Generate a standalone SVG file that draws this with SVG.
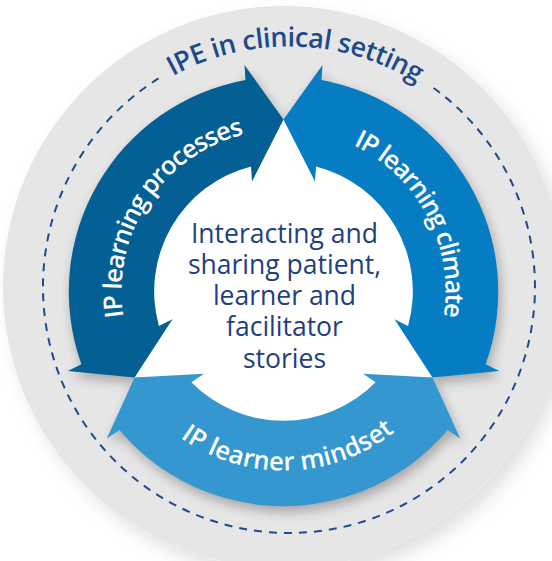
<svg xmlns="http://www.w3.org/2000/svg" width="552" height="561" viewBox="0 0 552 561">
<style>
.title{font-family:"Open Sans","Noto Sans","DejaVu Sans",sans-serif;font-weight:600;font-size:27px;font-stretch:90%;fill:#1D4A8C}
.lbl{font-family:"Open Sans","Noto Sans","DejaVu Sans",sans-serif;font-weight:600;font-size:25.5px;font-stretch:90%;fill:#ffffff}
.ctr{font-family:"Open Sans","Noto Sans","DejaVu Sans",sans-serif;font-size:26.5px;fill:#1E4080;text-anchor:middle}
.dash{fill:none;stroke:#1F4B8E;stroke-width:2;stroke-dasharray:8 7}
</style>
<defs>
<filter id="discShadow" x="-10%" y="-10%" width="130%" height="130%">
<feGaussianBlur in="SourceAlpha" stdDeviation="9"/>
<feOffset dx="8" dy="10" result="b"/>
<feFlood flood-color="#000" flood-opacity="0.12"/>
<feComposite in2="b" operator="in"/>
<feMerge><feMergeNode/><feMergeNode in="SourceGraphic"/></feMerge>
</filter>
<filter id="arrowShadow" x="-20%" y="-20%" width="140%" height="140%">
<feGaussianBlur stdDeviation="6"/>
</filter>
<path id="arrowShape" d="M -202.07 72.79 A 215 215 0 0 1 -38 -211.4 L -39 -226.5 L 0 -172 L -31.5 -110 L -32.5 -125.1 A 129 129 0 0 0 -124.59 34.4 L -111.01 27.72 L -148.96 86 L -215.65 79.48 Z"/>
<path id="pProc" d="M 172.0 409.0 A 162 162 0 0 1 348.1 142.9"/>
<path id="pClim" d="M 234.1 137.2 A 162 162 0 0 1 382.7 419.6"/>
<path id="pMind" d="M 108.2 327.5 A 179 179 0 0 0 460.6 317.7"/>
<path id="pTitle" d="M 47.1 280.2 A 242 242 0 0 1 530.9 293.8"/>
</defs>
<rect width="552" height="561" fill="#ffffff"/>
<g id="setting">
<circle cx="284" cy="287" r="281" fill="#E6E6E6" filter="url(#discShadow)"/>
<path class="dash" d="M 433.6 88.0 A 246 246 0 1 1 158.6 78.4"/>
<text class="title" text-anchor="middle"><textPath href="#pTitle" startOffset="50%" textLength="256" lengthAdjust="spacing">IPE in clinical setting</textPath></text>
</g>
<g id="arrow-shadows" opacity="0.28" filter="url(#arrowShadow)" fill="#000">
<use href="#arrowShape" transform="translate(286,297)"/>
<use href="#arrowShape" transform="translate(286,297) rotate(120)"/>
<use href="#arrowShape" transform="translate(286,297) rotate(240)"/>
</g>
<g id="center">
<g transform="translate(283.5,291.5)" fill="#ffffff">
<polygon points="0,-172 148.96,86 -148.96,86"/>
<circle r="130"/>
</g>
<text class="ctr" x="284.5" y="243">Interacting and</text>
<text class="ctr" x="284.5" y="274">sharing patient,</text>
<text class="ctr" x="284.5" y="305">learner and</text>
<text class="ctr" x="284.5" y="336">facilitator</text>
<text class="ctr" x="284.5" y="368">stories</text>
</g>
<g id="connectors">
<g id="arrow-processes">
<use href="#arrowShape" transform="translate(283.5,291.5)" fill="#045F94"/>
<text class="lbl" text-anchor="middle"><textPath href="#pProc" startOffset="50%" textLength="240" lengthAdjust="spacing">IP learning processes</textPath></text>
</g>
<g id="arrow-climate">
<use href="#arrowShape" transform="translate(283.5,291.5) rotate(120)" fill="#067DC2"/>
<text class="lbl" text-anchor="middle"><textPath href="#pClim" startOffset="50%" textLength="208" lengthAdjust="spacing">IP learning climate</textPath></text>
</g>
<g id="arrow-mindset">
<use href="#arrowShape" transform="translate(283.5,291.5) rotate(240)" fill="#3597D0"/>
<text class="lbl" text-anchor="middle"><textPath href="#pMind" startOffset="50%" textLength="230" lengthAdjust="spacing">IP learner mindset</textPath></text>
</g>
</g>
</svg>
